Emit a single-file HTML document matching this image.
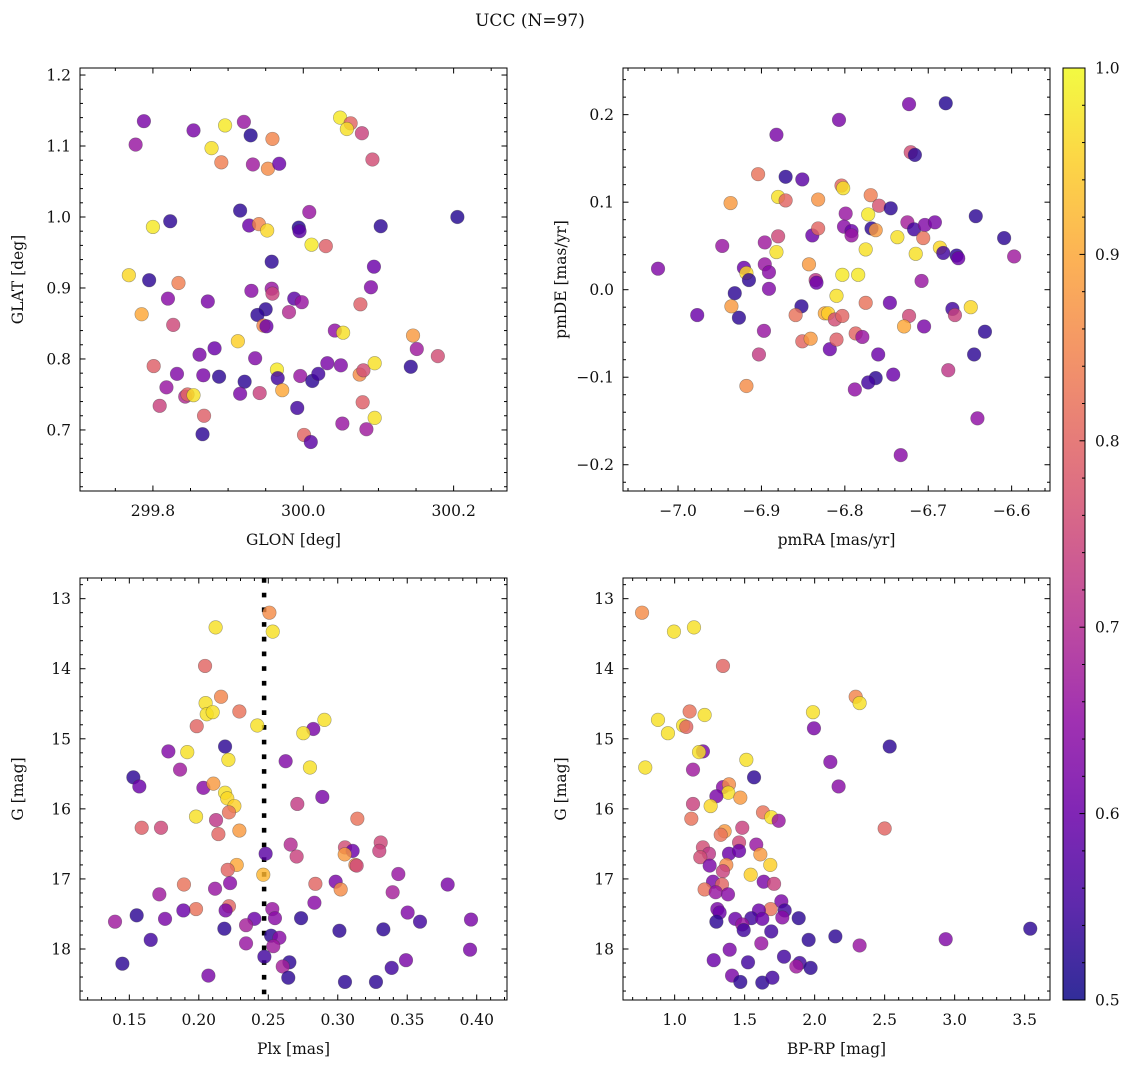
<!DOCTYPE html>
<html><head><meta charset="utf-8">
<style>
html,body{margin:0;padding:0;background:#fff;}
svg{display:block;font-family:"DejaVu Serif","Liberation Serif",serif;}
</style></head>
<body>
<svg id="fig" width="1136" height="1067" viewBox="0 0 1136 1067" xmlns="http://www.w3.org/2000/svg">
<text x="530" y="26" font-size="17" text-anchor="middle" fill="#111">UCC (N=97)</text>
</svg>
<script>
// ---- Panel 1: GLON / GLAT ----
const glon=[299.788,299.777,299.854,299.896,299.921,299.930,299.959,299.878,299.891,299.933,299.953,299.968,300.049,300.063,300.058,300.078,300.092,299.916,299.823,299.800,299.928,299.941,299.952,299.994,299.995,300.008,300.103,300.205,300.011,300.030,299.958,299.768,299.795,299.834,300.094,300.090,299.931,299.958,299.959,299.820,299.873,299.988,299.998,299.785,299.950,299.939,299.981,300.076,299.827,299.947,299.951,300.042,300.053,300.146,300.151,300.179,299.913,299.862,299.882,299.936,299.801,299.832,299.867,299.888,299.922,299.965,299.966,299.996,300.012,300.020,300.032,300.050,300.075,300.080,300.095,300.143,299.818,299.843,299.846,299.854,299.916,299.942,299.972,299.809,299.868,299.992,300.079,300.095,300.052,300.084,299.866,300.001,300.010];
const glat=[1.135,1.102,1.122,1.129,1.134,1.115,1.110,1.097,1.077,1.074,1.068,1.075,1.140,1.132,1.124,1.118,1.081,1.009,0.994,0.986,0.988,0.990,0.981,0.985,0.980,1.007,0.987,1.000,0.961,0.959,0.937,0.918,0.911,0.907,0.930,0.901,0.896,0.899,0.892,0.885,0.881,0.885,0.880,0.863,0.870,0.862,0.866,0.877,0.848,0.847,0.846,0.840,0.837,0.833,0.814,0.804,0.825,0.806,0.815,0.801,0.790,0.779,0.777,0.775,0.768,0.785,0.773,0.776,0.769,0.779,0.794,0.791,0.778,0.784,0.794,0.789,0.760,0.747,0.750,0.749,0.751,0.752,0.756,0.734,0.720,0.731,0.739,0.717,0.709,0.701,0.694,0.693,0.683];
const probPos=[.62,.66,.62,.98,.66,.52,.85,.97,.84,.67,.86,.6,.98,.8,.97,.74,.76,.53,.53,.98,.6,.85,.96,.52,.58,.66,.53,.52,.98,.79,.53,.96,.53,.84,.6,.63,.64,.66,.74,.64,.62,.58,.66,.9,.53,.53,.7,.79,.75,.85,.6,.65,.97,.88,.67,.76,.95,.62,.6,.63,.79,.63,.62,.53,.53,.98,.55,.66,.53,.55,.62,.63,.86,.76,.97,.53,.66,.7,.8,.97,.62,.74,.9,.74,.79,.55,.79,.97,.66,.67,.53,.8,.58];
const glonTicks=["299.8","300.0","300.2"];
const glatTicks=["0.7","0.8","0.9","1.0","1.1","1.2"];
// ---- Panel 2: pmRA / pmDE ----
const pmra=[-6.723,-6.679,-6.807,-6.882,-6.721,-6.716,-6.904,-6.871,-6.851,-6.804,-6.802,-6.937,-6.880,-6.871,-6.832,-6.769,-6.759,-6.745,-6.643,-6.799,-6.772,-6.768,-6.763,-6.725,-6.717,-6.704,-6.692,-6.737,-6.706,-6.801,-6.792,-6.792,-6.839,-6.832,-6.609,-6.947,-6.896,-6.880,-6.882,-6.775,-6.715,-6.686,-6.682,-6.666,-6.664,-6.597,-7.024,-6.843,-6.921,-6.918,-6.915,-6.896,-6.891,-6.835,-6.834,-6.803,-6.784,-6.708,-6.891,-6.932,-6.810,-6.977,-6.927,-6.936,-6.852,-6.859,-6.824,-6.820,-6.812,-6.803,-6.775,-6.746,-6.723,-6.729,-6.705,-6.671,-6.668,-6.649,-6.632,-6.897,-6.851,-6.841,-6.818,-6.810,-6.787,-6.779,-6.903,-6.760,-6.645,-6.676,-6.763,-6.772,-6.742,-6.788,-6.918,-6.641,-6.733];
const pmde=[0.212,0.213,0.194,0.177,0.157,0.154,0.132,0.129,0.126,0.119,0.116,0.099,0.106,0.102,0.103,0.108,0.096,0.093,0.084,0.087,0.086,0.070,0.068,0.077,0.069,0.074,0.077,0.060,0.059,0.072,0.067,0.062,0.062,0.070,0.059,0.050,0.054,0.061,0.043,0.046,0.041,0.048,0.042,0.039,0.036,0.038,0.024,0.029,0.025,0.019,0.011,0.029,0.020,0.011,0.008,0.017,0.017,0.010,0.001,-0.004,-0.007,-0.029,-0.032,-0.019,-0.019,-0.029,-0.027,-0.027,-0.034,-0.030,-0.015,-0.015,-0.030,-0.042,-0.042,-0.022,-0.029,-0.020,-0.048,-0.047,-0.059,-0.056,-0.068,-0.057,-0.050,-0.054,-0.074,-0.074,-0.074,-0.092,-0.101,-0.106,-0.097,-0.114,-0.110,-0.147,-0.189];
const probPm=[.62,.52,.62,.62,.76,.53,.82,.53,.58,.8,.97,.88,.97,.8,.87,.84,.77,.53,.53,.66,.98,.53,.88,.68,.55,.63,.62,.97,.82,.64,.6,.66,.6,.8,.53,.66,.67,.75,.97,.97,.97,.96,.55,.53,.6,.67,.63,.88,.6,.96,.53,.66,.64,.72,.6,.98,.98,.66,.63,.53,.97,.6,.53,.88,.53,.82,.9,.95,.76,.8,.82,.6,.75,.9,.62,.55,.74,.96,.53,.66,.8,.88,.6,.79,.8,.66,.73,.6,.53,.72,.53,.55,.6,.65,.86,.65,.64];
const pmraTicks=["\u22127.0","\u22126.9","\u22126.8","\u22126.7","\u22126.6"];
const pmdeTicks=["\u22120.2","\u22120.1","0.0","0.1","0.2"];
// ---- Panel 3: Plx / G ----
const plx=[0.2508,0.2532,0.2121,0.2045,0.2160,0.2049,0.2057,0.2100,0.2292,0.1985,0.2421,0.2904,0.2824,0.2752,0.1781,0.1917,0.2189,0.2213,0.2625,0.2800,0.1529,0.1572,0.1865,0.2033,0.2105,0.2189,0.2205,0.2256,0.2217,0.1980,0.2889,0.2709,0.1589,0.1728,0.2124,0.2141,0.2292,0.3141,0.2661,0.2704,0.2481,0.3052,0.3107,0.3050,0.3309,0.3299,0.3127,0.3136,0.2273,0.2208,0.2464,0.3436,0.1893,0.1716,0.2117,0.2225,0.2839,0.2985,0.3021,0.3395,0.3791,0.2832,0.1980,0.1889,0.2217,0.2193,0.1553,0.1757,0.1397,0.2400,0.2340,0.2529,0.2548,0.2736,0.3503,0.3592,0.3959,0.2184,0.1654,0.2520,0.2580,0.3012,0.3328,0.2340,0.2536,0.3952,0.2472,0.2652,0.2604,0.3491,0.3388,0.1450,0.2069,0.2644,0.3052,0.3275];
const gPlx=[13.20,13.47,13.41,13.96,14.40,14.49,14.65,14.62,14.61,14.82,14.81,14.73,14.86,14.92,15.18,15.19,15.11,15.30,15.32,15.41,15.55,15.68,15.44,15.70,15.64,15.77,15.85,15.96,16.05,16.11,15.83,15.93,16.27,16.27,16.16,16.36,16.31,16.14,16.51,16.68,16.64,16.55,16.60,16.65,16.48,16.60,16.80,16.81,16.80,16.87,16.94,16.93,17.08,17.22,17.14,17.06,17.07,17.04,17.15,17.19,17.08,17.34,17.43,17.45,17.39,17.45,17.52,17.57,17.61,17.57,17.66,17.43,17.56,17.56,17.48,17.61,17.58,17.71,17.87,17.81,17.84,17.74,17.72,17.92,17.96,18.01,18.11,18.19,18.25,18.16,18.27,18.21,18.38,18.41,18.47,18.47];
const probPlx=[.86,.97,.97,.8,.85,.97,.97,.97,.82,.8,.97,.97,.62,.97,.63,.97,.53,.97,.63,.97,.53,.6,.67,.64,.88,.97,.96,.95,.82,.97,.62,.73,.79,.75,.72,.8,.88,.82,.7,.74,.58,.76,.6,.88,.75,.74,.86,.75,.9,.8,.92,.66,.82,.67,.66,.64,.8,.62,.86,.68,.62,.64,.82,.6,.8,.62,.53,.62,.67,.6,.68,.66,.64,.53,.63,.55,.62,.53,.55,.53,.64,.53,.53,.66,.67,.62,.55,.53,.68,.62,.55,.53,.62,.53,.53,.53];
const plxCut=[0.247];
const plxTicks=["0.15","0.20","0.25","0.30","0.35","0.40"];
const gTicks=["13","14","15","16","17","18"];
// ---- Panel 4: BP-RP / G ----
const bprp=[0.767,0.995,1.138,1.345,2.293,2.321,1.988,1.995,0.881,0.952,1.060,1.083,1.107,1.214,2.536,1.202,1.174,1.512,0.790,1.131,1.567,2.112,2.171,1.345,1.388,1.383,1.298,1.469,1.257,1.131,1.119,1.631,1.690,1.743,2.500,1.483,1.357,1.329,1.460,1.583,1.202,1.245,1.183,1.388,1.460,1.612,1.683,1.250,1.369,1.345,1.543,1.636,1.710,1.274,1.338,1.214,1.293,1.381,1.762,1.686,1.305,1.321,1.602,1.786,1.298,1.433,1.548,1.626,1.769,1.886,1.483,1.493,1.690,3.540,1.957,2.148,2.321,2.936,1.619,1.393,1.279,1.524,1.781,1.893,1.869,1.971,1.410,1.469,1.626,1.698];
const gCmd=[13.20,13.47,13.41,13.96,14.40,14.49,14.62,14.85,14.73,14.92,14.81,14.83,14.61,14.66,15.11,15.18,15.19,15.30,15.41,15.44,15.55,15.33,15.68,15.69,15.65,15.77,15.82,15.84,15.96,15.93,16.14,16.05,16.12,16.17,16.28,16.27,16.32,16.37,16.48,16.51,16.55,16.64,16.69,16.64,16.60,16.65,16.80,16.81,16.80,16.89,16.94,17.04,17.07,17.04,17.08,17.15,17.19,17.22,17.32,17.43,17.43,17.48,17.45,17.45,17.61,17.57,17.56,17.57,17.55,17.56,17.65,17.73,17.75,17.71,17.87,17.82,17.95,17.86,17.92,18.01,18.16,18.19,18.11,18.20,18.25,18.27,18.38,18.47,18.48,18.41];
const probCmd=[.86,.97,.97,.8,.85,.97,.97,.62,.97,.97,.97,.8,.82,.97,.53,.62,.97,.97,.97,.67,.53,.63,.64,.64,.86,.97,.62,.88,.96,.74,.82,.82,.97,.66,.8,.74,.88,.82,.75,.66,.76,.72,.76,.6,.6,.88,.95,.62,.86,.74,.95,.62,.74,.62,.8,.82,.66,.64,.62,.82,.62,.6,.6,.55,.53,.6,.55,.6,.64,.53,.66,.55,.55,.53,.53,.53,.66,.63,.66,.62,.6,.55,.55,.55,.67,.53,.62,.53,.53,.55];
const bprpTicks=["1.0","1.5","2.0","2.5","3.0","3.5"];
const cbarTicks=["0.5","0.6","0.7","0.8","0.9","1.0"];

const NS="http://www.w3.org/2000/svg";
const svg=document.getElementById('fig');
const stops=[[13,8,135],[65,4,157],[106,0,168],[143,13,164],[177,42,144],[204,71,120],[225,100,98],[242,132,75],[252,166,54],[252,206,37],[240,249,33]];
function plasma(p){
  let t=Math.max(0,Math.min(1,(p-0.5)/0.5))*10;
  const i=Math.min(9,Math.floor(t)),f=t-i,a=stops[i],b=stops[i+1];
  return 'rgb('+a.map((v,k)=>Math.round(v+(b[k]-v)*f)).join(',')+')';
}
function mk(tag,attrs,parent){
  const e=document.createElementNS(NS,tag);
  for(const k in attrs)e.setAttribute(k,attrs[k]);
  (parent||svg).appendChild(e);return e;
}
function panel(c){
  const g=mk('g',{});
  
  
  const sx=v=>c.L+(v-c.x0)/(c.x1-c.x0)*c.W;
  const sy=v=>c.T+(v-c.y0)/(c.y1-c.y0)*c.H;
  if(c.cut){
    c.cut.forEach(v=>{
      const ln=mk('line',{x1:sx(v),x2:sx(v),y1:c.T,y2:c.T+c.H,stroke:'#000','stroke-width':4.5,'stroke-dasharray':'4.7 10'},g);
      
      
    });
  }
  for(let i=0;i<c.xs.length;i++){
    const pt=mk('circle',{cx:sx(c.xs[i]),cy:sy(c.ys[i]),r:6.8,fill:plasma(c.ps[i]),'fill-opacity':0.82,stroke:'rgba(60,60,60,0.45)','stroke-width':0.6},g);
    
    
  }
  const fr=mk('rect',{x:c.L,y:c.T,width:c.W,height:c.H,fill:'none',stroke:'#000','stroke-width':1},g);
  
  
  const tk=(x1,y1,x2,y2)=>mk('line',{x1,y1,x2,y2,stroke:'#000','stroke-width':1},g);
  const majX=c.xtl.map(s=>parseFloat(s.replace('\u2212','-')));
  const majY=c.ytl.map(s=>parseFloat(s.replace('\u2212','-')));
  const lo=Math.min(c.x0,c.x1),hi=Math.max(c.x0,c.x1);
  for(let v=Math.ceil(lo/c.xm-1e-6)*c.xm;v<=hi+1e-9;v+=c.xm){
    const X=sx(v);const isM=majX.some(m=>Math.abs(m-v)<c.xm/10);const l=isM?5.5:3;
    tk(X,c.T+c.H,X,c.T+c.H-l);tk(X,c.T,X,c.T+l);
  }
  const ylo=Math.min(c.y0,c.y1),yhi=Math.max(c.y0,c.y1);
  for(let v=Math.ceil(ylo/c.ym-1e-6)*c.ym;v<=yhi+1e-9;v+=c.ym){
    const Y=sy(v);const isM=majY.some(m=>Math.abs(m-v)<c.ym/10);const l=isM?5.5:3;
    tk(c.L,Y,c.L+l,Y);tk(c.L+c.W,Y,c.L+c.W-l,Y);
  }
  c.xtl.forEach((s,i)=>{
    const t=mk('text',{x:sx(majX[i]),y:c.T+c.H+25,'font-size':15.5,'text-anchor':'middle',fill:'#111'},g);
    t.textContent=s;
    
    
  });
  c.ytl.forEach((s,i)=>{
    const t=mk('text',{x:c.L-9,y:sy(majY[i])+5.5,'font-size':15.5,'text-anchor':'end',fill:'#111'},g);
    t.textContent=s;
    
    
  });
  const xt=mk('text',{x:c.L+c.W/2,y:c.T+c.H+54,'font-size':15.5,'text-anchor':'middle',fill:'#111'},g);
  xt.textContent=c.xl;
  
  
  const yx=c.L-57,yy=c.T+c.H/2;
  const yt=mk('text',{x:yx,y:yy,'font-size':15.5,'text-anchor':'middle',fill:'#111',transform:'rotate(-90 '+yx+' '+yy+')'},g);
  yt.textContent=c.yl;
  
  
}
panel({name:'glon-glat-panel',L:80,T:68,W:427,H:423,x0:299.703,x1:300.271,y0:1.2099,y1:0.614,xs:glon,ys:glat,ps:probPos,xtl:glonTicks,ytl:glatTicks,xm:0.05,ym:0.02,xl:'GLON [deg]',yl:'GLAT [deg]'});
panel({name:'proper-motion-panel',L:623,T:68,W:427,H:423,x0:-7.066,x1:-6.554,y0:0.2533,y1:-0.230,xs:pmra,ys:pmde,ps:probPm,xtl:pmraTicks,ytl:pmdeTicks,xm:0.02,ym:0.02,xl:'pmRA [mas/yr]',yl:'pmDE [mas/yr]'});
panel({name:'parallax-magnitude-panel',L:80,T:578,W:427,H:422,x0:0.1145,x1:0.4218,y0:12.705,y1:18.728,xs:plx,ys:gPlx,ps:probPlx,xtl:plxTicks,ytl:gTicks,xm:0.01,ym:0.2,xl:'Plx [mas]',yl:'G [mag]',cut:plxCut});
panel({name:'color-magnitude-panel',L:623,T:578,W:427,H:422,x0:0.631,x1:3.681,y0:12.705,y1:18.728,xs:bprp,ys:gCmd,ps:probCmd,xtl:bprpTicks,ytl:gTicks,xm:0.1,ym:0.2,xl:'BP-RP [mag]',yl:'G [mag]'});

const cb=mk('g',{});


const defs=mk('defs',{},cb);
const lg=mk('linearGradient',{id:'pl',x1:0,y1:1,x2:0,y2:0},defs);
for(let i=0;i<=20;i++){mk('stop',{offset:(i/20),'stop-color':plasma(0.5+i/40),'stop-opacity':0.85},lg);}
const CT=68,CB=1000,CL=1063,CW=22;
mk('rect',{x:CL,y:CT,width:CW,height:CB-CT,fill:'url(#pl)',stroke:'#000','stroke-width':1},cb);
const cy=v=>CB-(v-0.5)/0.5*(CB-CT);
for(let v=0.5;v<=1.0001;v+=0.02){
  const isM=Math.abs(v*10-Math.round(v*10))<0.01;
  mk('line',{x1:CL+CW,x2:CL+CW-(isM?5.5:3),y1:cy(v),y2:cy(v),stroke:'#000','stroke-width':1},cb);
}
cbarTicks.forEach(s=>{
  const t=mk('text',{x:CL+CW+10,y:cy(parseFloat(s))+5.5,'font-size':15.5,fill:'#111'},cb);
  t.textContent=s;
  
  
});
</script>
</body></html>
